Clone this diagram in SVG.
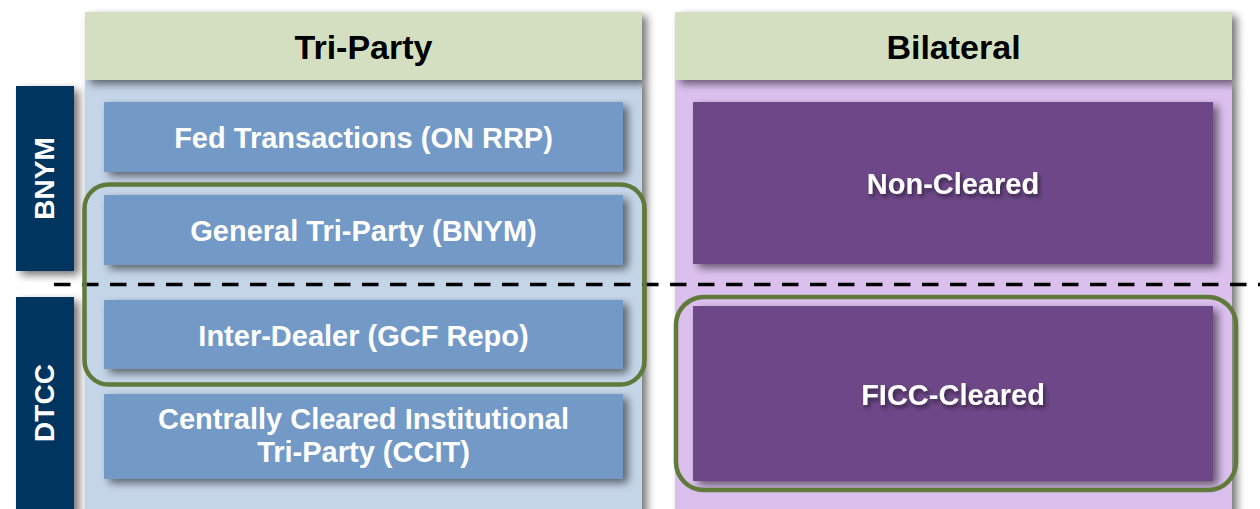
<svg xmlns="http://www.w3.org/2000/svg" width="1260" height="509" viewBox="0 0 1260 509">
  <defs>
    <filter id="sh" x="-10%" y="-10%" width="130%" height="130%">
      <feGaussianBlur in="SourceAlpha" stdDeviation="4"/>
      <feOffset dx="5" dy="4" result="b"/>
      <feComponentTransfer><feFuncA type="linear" slope="0.55"/></feComponentTransfer>
      <feMerge><feMergeNode/><feMergeNode in="SourceGraphic"/></feMerge>
    </filter>
    <filter id="tsh" x="-10%" y="-30%" width="120%" height="160%">
      <feGaussianBlur in="SourceAlpha" stdDeviation="2"/>
      <feOffset dx="2" dy="3"/>
      <feComponentTransfer><feFuncA type="linear" slope="0.5"/></feComponentTransfer>
      <feMerge><feMergeNode/><feMergeNode in="SourceGraphic"/></feMerge>
    </filter>
    <style>
      .hdr { fill: #D3DFC0; }
      .tbody { fill: #C5D5E8; }
      .bbody { fill: #DBC0EE; }
      .navy { fill: #003660; }
      .blue { fill: #7399C6; }
      .purple { fill: #6D4787; }
      .ring { fill: none; stroke: #5F7A3A; stroke-width: 4.5; }
      text { font-family: "Liberation Sans", Arial, sans-serif; font-weight: bold; text-anchor: middle; }
      .ht { font-size: 34px; fill: #000; }
      .bt { font-size: 29px; fill: #fff; }
      .vt { font-size: 28px; fill: #fff; }
    </style>
  </defs>

  <g id="tri-party-panel">
    <rect class="tbody" x="85" y="80" width="557" height="440" filter="url(#sh)"/>
    <rect class="hdr" x="85" y="12" width="557" height="68" filter="url(#sh)"/>
    <text class="ht" x="363.5" y="59">Tri-Party</text>
  </g>
  <g id="bilateral-panel">
    <rect class="bbody" x="675" y="80" width="557" height="440" filter="url(#sh)"/>
    <rect class="hdr" x="675" y="12" width="557" height="68" filter="url(#sh)"/>
    <text class="ht" x="953.5" y="59">Bilateral</text>
  </g>

  <g id="bnym">
    <rect class="navy" x="16" y="86" width="58" height="185" filter="url(#sh)"/>
    <text class="vt" transform="translate(54,178.5) rotate(-90)" x="0" y="0">BNYM</text>
  </g>
  <g id="dtcc">
    <rect class="navy" x="16" y="297" width="58" height="220" filter="url(#sh)"/>
    <text class="vt" transform="translate(54,403) rotate(-90)" x="0" y="0">DTCC</text>
  </g>

  <g id="fed">
    <rect class="blue" x="104" y="102" width="519" height="70" filter="url(#sh)"/>
    <text class="bt" x="363.5" y="147.5">Fed Transactions (ON RRP)</text>
  </g>
  <g id="general">
    <rect class="blue" x="104" y="195" width="519" height="70" filter="url(#sh)"/>
    <text class="bt" x="363.5" y="240.5">General Tri-Party (BNYM)</text>
  </g>
  <g id="interdealer">
    <rect class="blue" x="104" y="300" width="519" height="69" filter="url(#sh)"/>
    <text class="bt" x="363.5" y="346">Inter-Dealer (GCF Repo)</text>
  </g>
  <g id="ccit">
    <rect class="blue" x="104" y="394" width="519" height="85" filter="url(#sh)"/>
    <text class="bt" x="363.5" y="428.5">Centrally Cleared Institutional</text>
    <text class="bt" x="363.5" y="462">Tri-Party (CCIT)</text>
  </g>

  <g id="noncleared">
    <rect class="purple" x="693" y="102" width="520" height="162" filter="url(#sh)"/>
    <text class="bt" x="953" y="193.5" filter="url(#tsh)">Non-Cleared</text>
  </g>
  <g id="ficc">
    <rect class="purple" x="693" y="306" width="520" height="175" filter="url(#sh)"/>
    <text class="bt" x="953" y="404.5" filter="url(#tsh)">FICC-Cleared</text>
  </g>

  <g id="connectors">
    <line x1="54" y1="284.5" x2="1260" y2="284.5" stroke="#000" stroke-width="3.5" stroke-dasharray="16.5 11.5"/>
    <rect class="ring" x="84.5" y="184.5" width="560" height="200" rx="24"/>
    <rect class="ring" x="676" y="297" width="560" height="193" rx="28"/>
  </g>
</svg>
